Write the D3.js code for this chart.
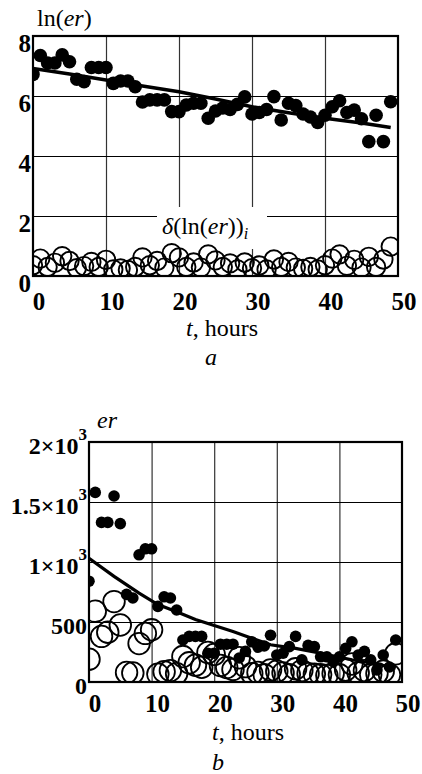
<!DOCTYPE html>
<html><head><meta charset="utf-8">
<script src="https://cdn.jsdelivr.net/npm/d3@7"></script>
<style>
body{margin:0;background:#fff}
</style>
</head><body>
<svg id="c" width="422" height="774"></svg>
<script>
// ---- data ----
const hours = [0,1,2,3,4,5,6,7,8,9,10,11,12,13,14,15,16,17,18,19,20,21,22,23,24,25,26,27,28,29,30,31,32,33,34,35,36,37,38,39,40,41,42,43,44,45,46,47,48,49];
const lnEr = [6.72,7.35,7.10,7.10,7.37,7.14,6.56,6.48,6.95,6.95,6.95,6.42,6.50,6.50,6.31,5.80,5.87,5.87,5.87,5.48,5.48,5.70,5.76,5.76,5.26,5.50,5.60,5.55,5.72,5.97,5.40,5.45,5.55,5.98,5.20,5.76,5.68,5.40,5.30,5.12,5.36,5.64,5.84,5.45,5.53,5.24,4.48,5.36,4.48,5.81];
const deltaLn = [0.36,0.58,0.30,0.44,0.66,0.50,0.26,0.33,0.47,0.30,0.54,0.22,0.25,0.20,0.30,0.62,0.36,0.50,0.28,0.76,0.62,0.30,0.45,0.28,0.72,0.52,0.30,0.42,0.22,0.45,0.26,0.35,0.22,0.55,0.30,0.47,0.28,0.24,0.30,0.22,0.36,0.58,0.72,0.34,0.54,0.28,0.64,0.30,0.55,0.98];
const trendT = [0,5,10,15,20,25,30,35,40,45,49];
const trendLn = [6.92,6.73,6.53,6.33,6.14,5.90,5.64,5.44,5.26,5.10,4.95];

const er = [840,1580,1330,1330,1550,1320,730,700,1060,1110,1110,630,710,700,600,350,380,380,380,240,240,315,315,315,200,255,335,290,300,390,225,240,295,380,185,305,295,210,210,170,210,280,335,225,255,185,100,225,125,350];
const deltaEr = [190,590,380,415,670,475,80,75,320,405,435,65,85,95,70,212,160,140,123,246,230,138,121,105,202,128,70,80,60,100,90,75,60,110,95,70,65,60,55,70,60,100,150,75,95,60,70,90,60,235];
const trendTB = [0,4,8,11,14,17,20,23,26,29,31,33,37,42,46,49];
const trendEr = [1030,880,740,645,585,520,470,420,365,310,295,280,240,185,150,115];

const xTicks = [0,10,20,30,40,50];
const yTicksA = [0,2,4,6,8];
const yTicksB = [0,500,1000,1500,2000];
const yTickLabelsB = [["0",""],["500",""],["1×10","3"],["1.5×10","3"],["2×10","3"]];

const FONT = "'Liberation Serif','Times New Roman','DejaVu Serif',serif";
const svg = d3.select("#c");
function txt(sel){ return sel.append("text").attr("font-family",FONT).attr("fill","#000"); }

function panel(cfg){
  const g = svg.append("g");
  const x = d3.scaleLinear().domain([0,50]).range([cfg.x0,cfg.x1]);
  const y = d3.scaleLinear().domain(cfg.ydom).range([cfg.y0,cfg.y1]);
  const clipId = "clip"+cfg.id;
  svg.append("clipPath").attr("id",clipId).append("rect")
    .attr("x",cfg.x0).attr("y",cfg.y1).attr("width",cfg.x1-cfg.x0).attr("height",cfg.y0-cfg.y1);
  g.append("g").attr("transform",`translate(0,${cfg.y0})`)
    .call(d3.axisBottom(x).tickValues(xTicks.slice(1,-1)).tickSize(-(cfg.y0-cfg.y1)).tickFormat(""))
    .call(s=>{s.select(".domain").remove();s.selectAll("line").attr("stroke","#333").attr("stroke-width",1.2);});
  g.append("g").attr("transform",`translate(${cfg.x0},0)`)
    .call(d3.axisLeft(y).tickValues(cfg.yticks.slice(1,-1)).tickSize(-(cfg.x1-cfg.x0)).tickFormat(""))
    .call(s=>{s.select(".domain").remove();s.selectAll("line").attr("stroke","#000").attr("stroke-width",1.2);});
  return {g,x,y,clipId};
}

// ---------- panel a ----------
const A = panel({id:"a",x0:33,x1:398,y0:276,y1:36,ydom:[0,8],yticks:yTicksA});
A.g.append("rect").attr("x",157).attr("y",207).attr("width",110).attr("height",42).attr("fill","#fff");
const ca = A.g.append("g").attr("clip-path",`url(#${A.clipId})`);
ca.selectAll("circle.o").data(hours).join("circle")
  .attr("cx",(d)=>A.x(d)).attr("cy",(d,i)=>A.y(deltaLn[i])).attr("r",9.2)
  .attr("fill","none").attr("stroke","#000").attr("stroke-width",1.9);
ca.selectAll("circle.f").data(hours).join("circle")
  .attr("cx",(d)=>A.x(d)).attr("cy",(d,i)=>A.y(lnEr[i])).attr("r",6.8).attr("fill","#000");
ca.append("path").datum(trendT)
  .attr("d",d3.line().x(d=>A.x(d)).y((d,i)=>A.y(trendLn[i])))
  .attr("fill","none").attr("stroke","#000").attr("stroke-width",3.5);
A.g.append("rect").attr("x",33).attr("y",36).attr("width",365).attr("height",240)
  .attr("fill","none").attr("stroke","#000").attr("stroke-width",2.2);
A.g.append("g").selectAll("text").data(xTicks).join("text")
  .attr("font-family",FONT).attr("x",d=>A.x(d)+6).attr("y",310).attr("text-anchor","middle")
  .attr("font-size",25).attr("font-weight","bold").text(d=>d);
A.g.append("g").selectAll("text").data(yTicksA).join("text")
  .attr("font-family",FONT).attr("x",31).attr("y",d=>A.y(d)+16).attr("text-anchor","end")
  .attr("font-size",25).attr("font-weight","bold").text(d=>d);
const ta = txt(A.g).attr("x",37).attr("y",26).attr("font-size",24);
ta.append("tspan").text("ln(");
ta.append("tspan").attr("font-style","italic").text("er");
ta.append("tspan").text(")");
const td = txt(A.g).attr("x",162).attr("y",234).attr("font-size",24);
td.append("tspan").attr("font-style","italic").text("δ");
td.append("tspan").text("(ln(");
td.append("tspan").attr("font-style","italic").text("er");
td.append("tspan").text("))");
td.append("tspan").attr("font-style","italic").attr("font-size",16).attr("dy",5).text("i");
const tx = txt(A.g).attr("x",222).attr("y",336).attr("text-anchor","middle").attr("font-size",24);
tx.append("tspan").attr("font-style","italic").text("t");
tx.append("tspan").text(", hours");
txt(A.g).attr("x",211).attr("y",365).attr("text-anchor","middle").attr("font-size",24)
  .attr("font-style","italic").text("a");

// ---------- panel b ----------
const B = panel({id:"b",x0:89,x1:402,y0:682,y1:442,ydom:[0,2000],yticks:yTicksB});
const cb = B.g.append("g").attr("clip-path",`url(#${B.clipId})`);
cb.selectAll("circle.o").data(hours).join("circle")
  .attr("cx",(d)=>B.x(d)).attr("cy",(d,i)=>B.y(deltaEr[i])).attr("r",10.8)
  .attr("fill","none").attr("stroke","#000").attr("stroke-width",1.8);
cb.selectAll("circle.f").data(hours).join("circle")
  .attr("cx",(d)=>B.x(d)).attr("cy",(d,i)=>B.y(er[i])).attr("r",5.8).attr("fill","#000");
cb.append("path").datum(trendTB)
  .attr("d",d3.line().x(d=>B.x(d)).y((d,i)=>B.y(trendEr[i])))
  .attr("fill","none").attr("stroke","#000").attr("stroke-width",3.2);
B.g.append("rect").attr("x",89).attr("y",442).attr("width",313).attr("height",240)
  .attr("fill","none").attr("stroke","#000").attr("stroke-width",2.2);
B.g.append("g").selectAll("text").data(xTicks).join("text")
  .attr("font-family",FONT).attr("x",d=>B.x(d)+6).attr("y",712).attr("text-anchor","middle")
  .attr("font-size",25).attr("font-weight","bold").text(d=>d);
B.g.append("g").selectAll("text").data(yTicksB).join("text")
  .attr("font-family",FONT).attr("x",87).attr("y",d=>B.y(d)+12).attr("text-anchor","end")
  .attr("font-size",24).attr("font-weight","bold")
  .each(function(d,i){
    const t=d3.select(this), lab=yTickLabelsB[i];
    t.append("tspan").text(lab[0]);
    if(lab[1]) t.append("tspan").attr("font-size",17).attr("dy",-14).text(lab[1]);
  });
txt(B.g).attr("x",97).attr("y",428).attr("font-size",24).attr("font-style","italic").text("er");
const tx2 = txt(B.g).attr("x",248).attr("y",740).attr("text-anchor","middle").attr("font-size",24);
tx2.append("tspan").attr("font-style","italic").text("t");
tx2.append("tspan").text(", hours");
txt(B.g).attr("x",218).attr("y",770).attr("text-anchor","middle").attr("font-size",24)
  .attr("font-style","italic").text("b");
</script>
</body></html>
